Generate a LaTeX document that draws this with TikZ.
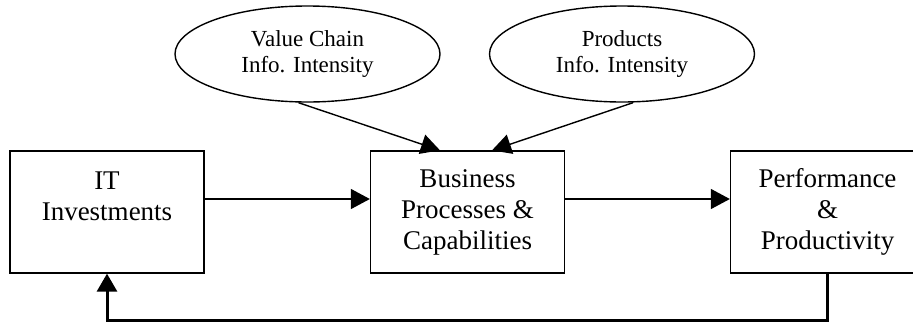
\documentclass[tikz,border=0pt]{standalone}
\usepackage{fontspec}
\setmainfont{Liberation Serif}
\usetikzlibrary{shapes.geometric,arrows.meta}

\tikzset{
  boxnode/.style={draw, line width=1.3pt, rectangle, minimum width=194pt,
    minimum height=122pt, inner sep=0pt, align=center,
    font=\fontsize{27}{31}\selectfont},
  factor/.style={draw, line width=1.4pt, ellipse, minimum width=265pt,
    minimum height=96pt, inner sep=0pt, align=center,
    font=\fontsize{23}{26.5}\selectfont},
  link/.style={line width=1.4pt, -{Triangle[length=19pt,width=20pt]}},
  feedback/.style={line width=3pt, -{Triangle[length=18pt,width=20pt]}}
}

\begin{document}
\begin{tikzpicture}[x=1pt, y=-1pt]
  \clip (0,0) rectangle (913,322);

  % driving factors
  \node[factor] (vc) at (307.5,54) {Value Chain\\Info. Intensity};
  \node[factor] (pi) at (622,54) {Products\\Info. Intensity};

  % main chain
  \node[boxnode] (it) at (107,212) {IT\\Investments\\\mbox{}};
  \node[boxnode] (bp) at (467.5,212) {Business\\Processes \&\\Capabilities};
  \node[boxnode] (pp) at (827.5,212) {Performance\\\&\\Productivity};

  % influences on business processes
  \draw[link] ([xshift=-9pt]vc.south) -- ([xshift=-27.5pt]bp.north);
  \draw[link] ([xshift=11pt]pi.south) -- ([xshift=24.5pt]bp.north);

  % forward links
  \draw[link] ([yshift=13pt]it.east) -- ([yshift=13pt]bp.west);
  \draw[link] ([yshift=13pt]bp.east) -- ([yshift=13pt]pp.west);

  % feedback loop
  \draw[feedback] (pp.south) -- ++(0,47) -| (it.south);
\end{tikzpicture}
\end{document}
